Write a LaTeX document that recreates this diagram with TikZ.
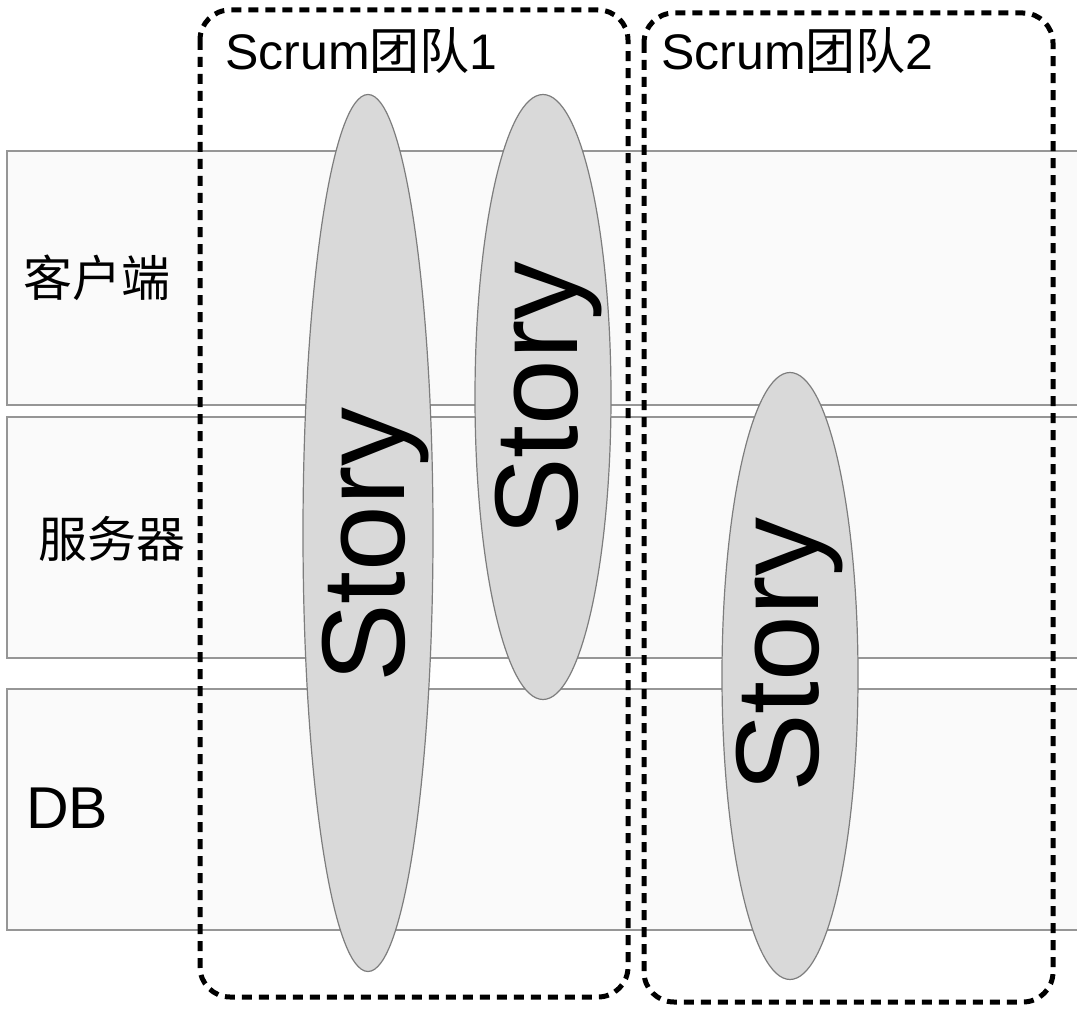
\documentclass[tikz,border=0pt]{standalone}
\usepackage{fontspec}
\setmainfont{Liberation Sans}
\newfontfamily\cjk{Noto Sans CJK SC}
\usetikzlibrary{shapes.geometric,calc}

\definecolor{bandfill}{RGB}{250,250,250}
\definecolor{bandline}{RGB}{150,150,150}
\definecolor{storyfill}{RGB}{217,217,217}
\definecolor{storyline}{RGB}{125,125,125}

\tikzset{
  layerband/.style={draw=bandline, line width=1.2pt, fill=bandfill},
  storyshape/.style={ellipse, draw=storyline, line width=1.2pt, fill=storyfill, inner sep=0pt},
  storytext/.style={rotate=90, inner sep=0pt, font=\fontsize{118}{118}\selectfont},
  teambox/.style={draw=black, line width=5pt, rounded corners=30pt, dash pattern=on 10pt off 7pt},
  teamlabel/.style={anchor=base west, inner sep=0pt, font=\fontsize{50}{50}\selectfont},
  layerlabel/.style={inner sep=0pt, font=\fontsize{49}{49}\selectfont\cjk}
}

\begin{document}
\begin{tikzpicture}[x=1pt,y=1pt,yscale=-1,xscale=1]
    \useasboundingbox (0,0) rectangle (1077,1014);

    % Layer bands
    \draw [layerband] (7,151) rectangle (1085,405) ;
    \draw [layerband] (7,417) rectangle (1085,658) ;
    \draw [layerband] (7,689) rectangle (1085,930) ;

    % Story ellipses
    \node [storyshape, minimum width=130pt, minimum height=877pt] (story1) at (368,533) {};
    \node [storyshape, minimum width=136pt, minimum height=605pt] (story2) at (543,397) {};
    \node [storyshape, minimum width=136pt, minimum height=607pt] (story3) at (790,676) {};

    % Scrum teams
    \draw [teambox] (200,10) rectangle (628,997) ;
    \draw [teambox] (644,13) rectangle (1053,1002) ;

    % Text Node
    \node [storytext] (storytext1) at ($(story1.center)+(8,12)$) {Story};
    % Text Node
    \node [storytext] (storytext2) at ($(story2.center)+(6,2)$) {Story};
    % Text Node
    \node [storytext] (storytext3) at ($(story3.center)+(0,-21)$) {Story};

    % Text Node
    \node [teamlabel] (team1) at (225,70) {Scrum{\cjk 团队}1};
    % Text Node
    \node [teamlabel] (team2) at (661,70) {Scrum{\cjk 团队}2};

    % Text Node
    \node [layerlabel] (client) at (97,278) {客户端};
    % Text Node
    \node [layerlabel] (server) at (112,539) {服务器};
    % Text Node
    \node [teamlabel, font=\fontsize{59}{59}\selectfont] (db) at (26,828) {DB};

\end{tikzpicture}
\end{document}
